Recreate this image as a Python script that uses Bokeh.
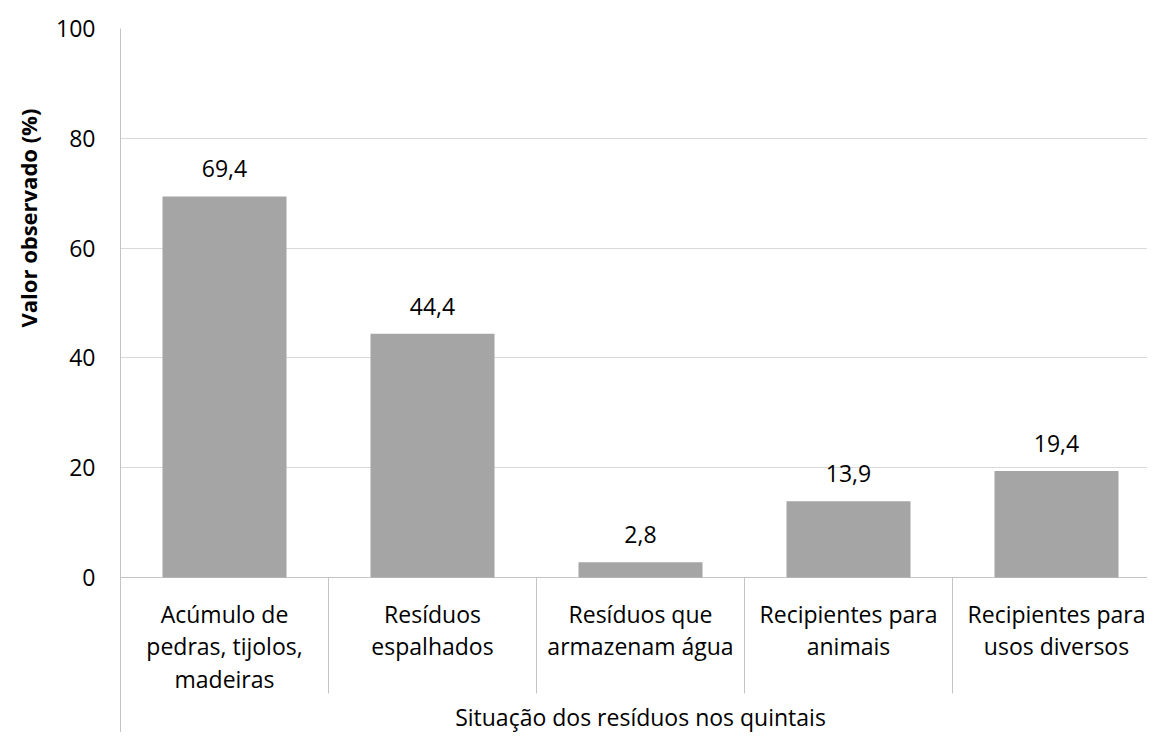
from bokeh.plotting import figure
from bokeh.models import Range1d, FixedTicker, Title, ColumnDataSource
from bokeh.core.properties import value
from bokeh.embed import file_html
from bokeh.resources import INLINE

# ---- data ----
categories = [
    ["Acúmulo de", "pedras, tijolos,", "madeiras"],
    ["Resíduos", "espalhados"],
    ["Resíduos que", "armazenam água"],
    ["Recipientes para", "animais"],
    ["Recipientes para", "usos diversos"],
]
values = [69.4, 44.4, 2.8, 13.9, 19.4]
value_labels = ["69,4", "44,4", "2,8", "13,9", "19,4"]
y_ticks = [0, 20, 40, 60, 80, 100]
y_title = "Valor observado (%)"
x_title = "Situação dos resíduos nos quintais"

# ---- layout ----
W, H = 1147, 732
left, top = 120, 28
frame_w = W - left
frame_h = H - top
cat_px = 208.0
ppu = 5.49  # pixels per unit on y
x_end = frame_w / cat_px
y_start = 100 - frame_h / ppu

FONT = "Open Sans"
FS = "23px"
GRID = "#d9d9d9"
AXIS = "#c4c4c4"
BAR = "#a5a5a5"

p = figure(width=W, height=H, output_backend="svg", toolbar_location=None,
           x_range=Range1d(0, x_end), y_range=Range1d(y_start, 100),
           x_axis_location=None, min_border_left=left, min_border_top=top,
           min_border_right=0, min_border_bottom=0)
p.outline_line_color = None
p.background_fill_color = "white"
p.border_fill_color = "white"
p.xgrid.visible = False
p.ygrid.ticker = FixedTicker(ticks=y_ticks)
p.ygrid.grid_line_color = GRID
p.ygrid.grid_line_width = 1

ax = p.yaxis[0]
ax.ticker = FixedTicker(ticks=y_ticks)
ax.axis_line_color = AXIS
ax.axis_line_width = 1
ax.major_tick_line_color = None
ax.minor_tick_line_color = None
ax.major_tick_out = 0
ax.major_tick_in = 0
ax.major_label_standoff = 25
ax.major_label_text_font = FONT
ax.major_label_text_font_size = FS
ax.major_label_text_color = "black"

# y axis title, placed beside the axis
p.add_layout(Title(text=y_title, align="left", offset=405,
                   vertical_align="middle", standoff=20,
                   text_font=FONT, text_font_size="22px",
                   text_font_style="bold", text_color="black"), "left")

n = len(values)
centers = [i + 0.5 for i in range(n)]
src = ColumnDataSource(dict(x=centers, top=values, lab=value_labels,
                            ly=[v + 27.5 / ppu for v in values]))

# x baseline
p.segment(x0=[0], y0=[0], x1=[x_end], y1=[0], line_color=AXIS, line_width=1)

p.vbar(x="x", top="top", bottom=0, width=124 / cat_px, source=src,
       fill_color=BAR, line_color=None)

p.text(x="x", y="ly", text="lab", source=src, text_font=value(FONT),
       text_font_size=FS, text_color="black", text_align="center",
       text_baseline="middle")

# category dividers below axis
div_x = list(range(1, n + 1))
p.segment(x0=div_x, y0=[0] * len(div_x), x1=div_x,
          y1=[-116 / ppu] * len(div_x), line_color=AXIS, line_width=1)

# category labels
tx, ty, tt = [], [], []
for i, lines in enumerate(categories):
    for k, line in enumerate(lines):
        tx.append(i + 0.5)
        ty.append(-(36 + k * 32.7) / ppu)
        tt.append(line)
p.text(x=tx, y=ty, text=tt, text_font=value(FONT), text_font_size=FS,
       text_color="black", text_align="center", text_baseline="middle")

# x axis title
p.text(x=[n / 2], y=[-(716 - top - 100 * ppu) / ppu], text=[x_title],
       text_font=value(FONT), text_font_size=FS, text_color="black",
       text_align="center", text_baseline="middle")

open("out.html", "w").write(file_html(p, INLINE))
